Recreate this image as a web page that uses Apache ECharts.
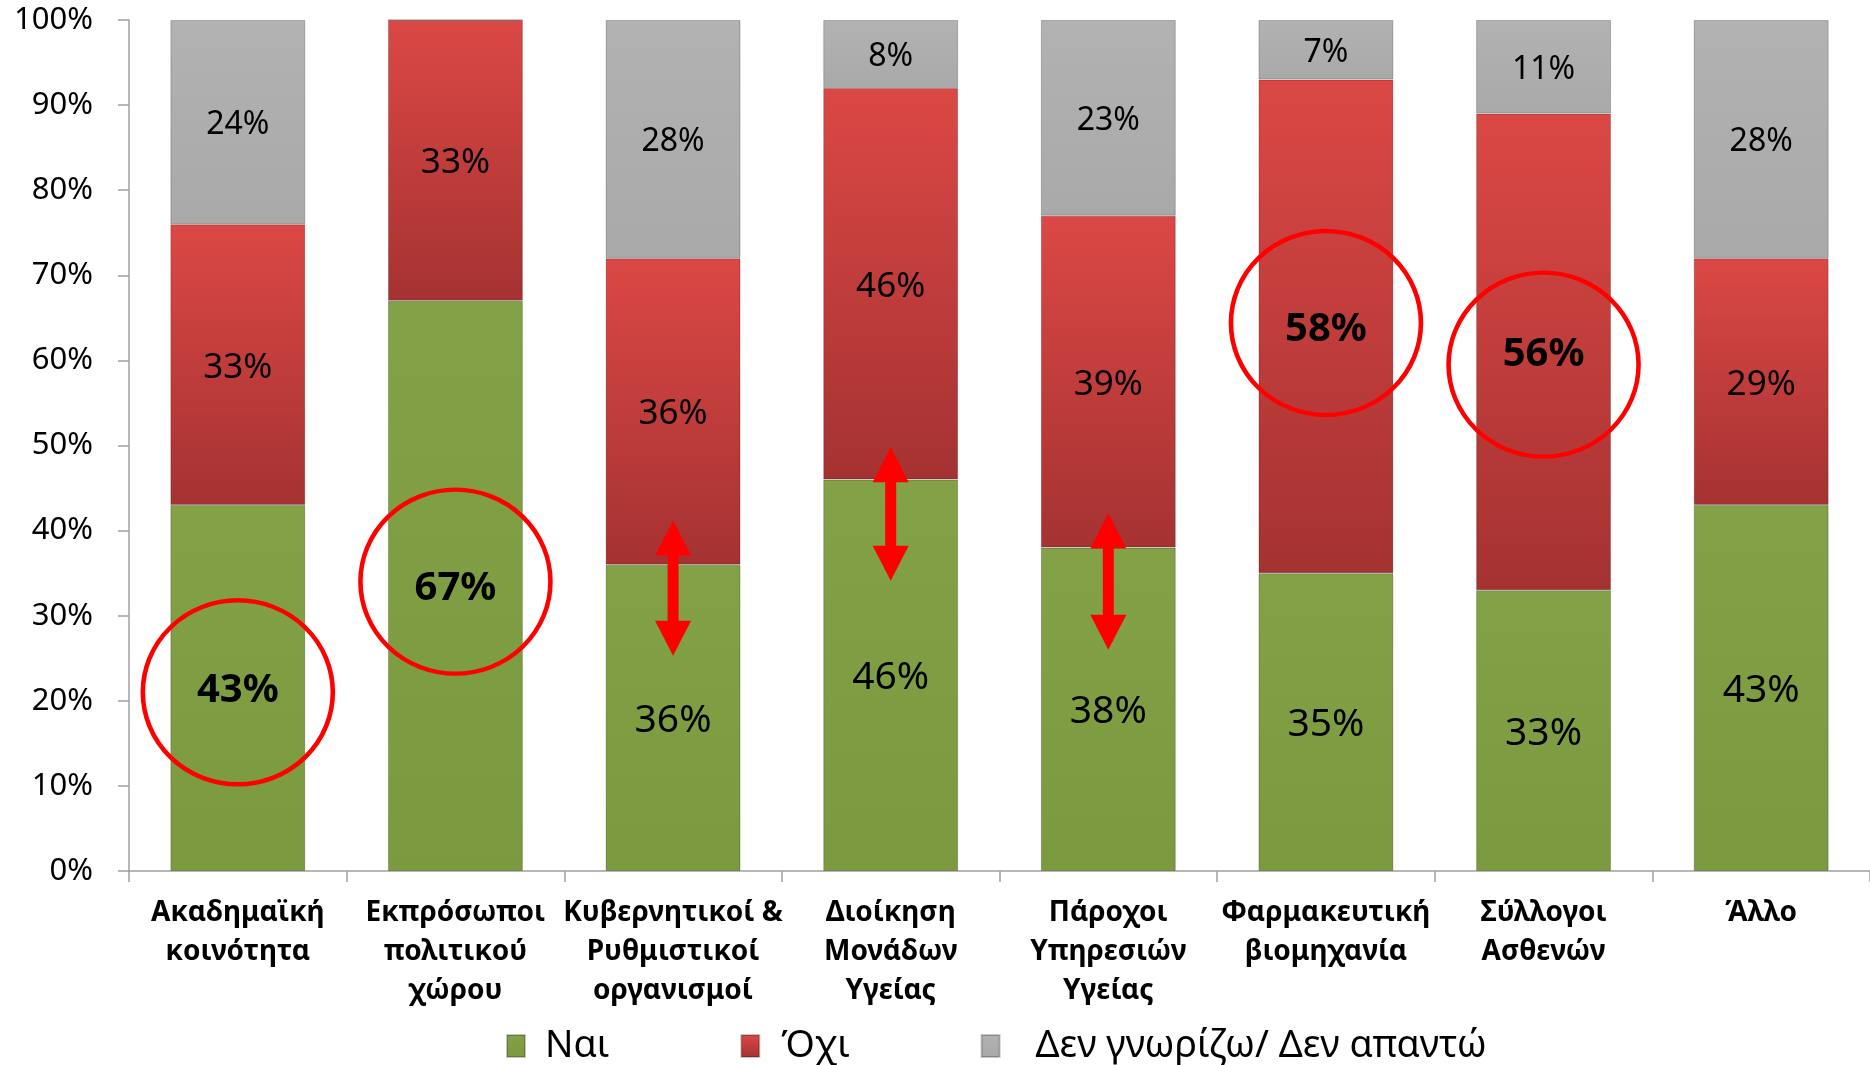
<!DOCTYPE html>
<html>
<head>
<meta charset="utf-8">
<script src="https://cdn.jsdelivr.net/npm/echarts@6/dist/echarts.min.js"></script>
<style>
html,body{margin:0;padding:0;background:#fff;}
#chart{width:1870px;height:1065px;}
</style>
</head>
<body>
<div id="chart"></div>
<script>
const categories = [
  'Ακαδημαϊκή\nκοινότητα',
  'Εκπρόσωποι\nπολιτικού\nχώρου',
  'Κυβερνητικοί &\nΡυθμιστικοί\nοργανισμοί',
  'Διοίκηση\nΜονάδων\nΥγείας',
  'Πάροχοι\nΥπηρεσιών\nΥγείας',
  'Φαρμακευτική\nβιομηχανία',
  'Σύλλογοι\nΑσθενών',
  'Άλλο'
];
const seriesNames = ['Ναι', 'Όχι', 'Δεν γνωρίζω/ Δεν απαντώ'];
const yesValues = [43, 67, 36, 46, 38, 35, 33, 43];
const noValues = [33, 33, 36, 46, 39, 58, 56, 29];
const dkValues = [24, 0, 28, 8, 23, 7, 11, 28];
// highlighted (circled) segments: [category index, circle centre value, series name]
const circleMarks = [[0, 21, 'Ναι'], [1, 34, 'Ναι'], [5, 64.4, 'Όχι'], [6, 59.5, 'Όχι']];
// double arrows: [category index, top value, bottom value]
const arrowMarks = [[2, 41.2, 25.3], [3, 49.8, 34.1], [4, 42, 26]];

const FONT = 'Noto Sans';

function grad(top, bottom) {
  return {type: 'linear', x: 0, y: 0, x2: 0, y2: 1,
    colorStops: [{offset: 0, color: top}, {offset: 1, color: bottom}]};
}
const colors = [grad('#83A147', '#7B993F'), grad('#DB4845', '#A53232'), grad('#B2B2B2', '#A9A9A9')];
const labelSizes = [39, 35, 32];

function buildData(values, name) {
  return values.map((v, i) => {
    const hit = circleMarks.some(c => c[0] === i && c[2] === name);
    const item = {value: v};
    if (hit) item.label = {fontWeight: 'bold', fontSize: 40};
    return item;
  });
}

const valueSets = [yesValues, noValues, dkValues];
const barSeries = seriesNames.map((name, k) => ({
  name: name,
  type: 'bar',
  stack: 'total',
  barCategoryGap: '38%',
  data: buildData(valueSets[k], name),
  itemStyle: {color: colors[k], borderColor: 'rgba(0,0,0,0.22)', borderWidth: 1},
  label: {
    show: true, position: 'inside', color: '#000', fontFamily: FONT, fontSize: labelSizes[k],
    offset: [0, 3],
    formatter: p => p.value > 0 ? p.value + '%' : ''
  },
  silent: true
}));

const option = {
  animation: false,
  backgroundColor: '#fff',
  grid: {left: 129, width: 1748, top: 20, bottom: 194, containLabel: false},
  legend: {
    data: [
      {name: seriesNames[0], textStyle: {padding: [0, 0, 0, 15]}},
      {name: seriesNames[1], textStyle: {padding: [0, 0, 0, 17], width: 61, overflow: 'none'}},
      {name: seriesNames[2], textStyle: {padding: [0, 0, 0, 31]}}
    ],
    left: 501, top: 1022,
    itemWidth: 18, itemHeight: 22, itemGap: 131,
    icon: 'rect',
    textStyle: {fontFamily: FONT, fontSize: 37.5, color: '#000'}
  },
  xAxis: {
    type: 'category',
    data: categories,
    axisLine: {lineStyle: {color: '#A0A0A0', width: 1.5}},
    axisTick: {show: true, length: 11, lineStyle: {color: '#A0A0A0', width: 1.5}},
    axisLabel: {
      interval: 0, fontFamily: FONT, fontWeight: 'bold', fontSize: 28,
      color: '#000', lineHeight: 39, margin: 23
    }
  },
  yAxis: {
    type: 'value', min: 0, max: 100, interval: 10,
    splitLine: {show: false},
    axisLine: {show: true, lineStyle: {color: '#A0A0A0', width: 1.5}},
    axisTick: {show: true, length: 11, lineStyle: {color: '#A0A0A0', width: 1.5}},
    axisLabel: {formatter: '{value}%', fontFamily: FONT, fontSize: 31, color: '#000', margin: 36}
  },
  series: barSeries.concat([
    {
      type: 'scatter',
      name: 'circles',
      data: circleMarks.map(c => [c[0], c[1]]),
      symbol: 'circle',
      symbolSize: [190, 184],
      itemStyle: {color: 'rgba(0,0,0,0)', borderColor: '#FF0000', borderWidth: 4.5, opacity: 1},
      silent: true,
      z: 5
    },
    {
      type: 'custom',
      name: 'arrows',
      data: arrowMarks,
      encode: {x: 0, y: [1, 2]},
      silent: true,
      z: 6,
      renderItem: function (params, api) {
        const c = api.value(0);
        const t = api.coord([c, api.value(1)]);
        const b = api.coord([c, api.value(2)]);
        const x = t[0], y1 = t[1], y2 = b[1];
        const hh = 35, hw = 18, sw = 5.5;
        const pts = [
          [x, y1], [x + hw, y1 + hh], [x + sw, y1 + hh], [x + sw, y2 - hh], [x + hw, y2 - hh],
          [x, y2], [x - hw, y2 - hh], [x - sw, y2 - hh], [x - sw, y1 + hh], [x - hw, y1 + hh]
        ];
        return {type: 'polygon', shape: {points: pts}, style: {fill: '#FF0000'}};
      }
    }
  ])
};

const chart = echarts.init(document.getElementById('chart'), null, {renderer: 'canvas'});
chart.setOption(option);
</script>
</body>
</html>
